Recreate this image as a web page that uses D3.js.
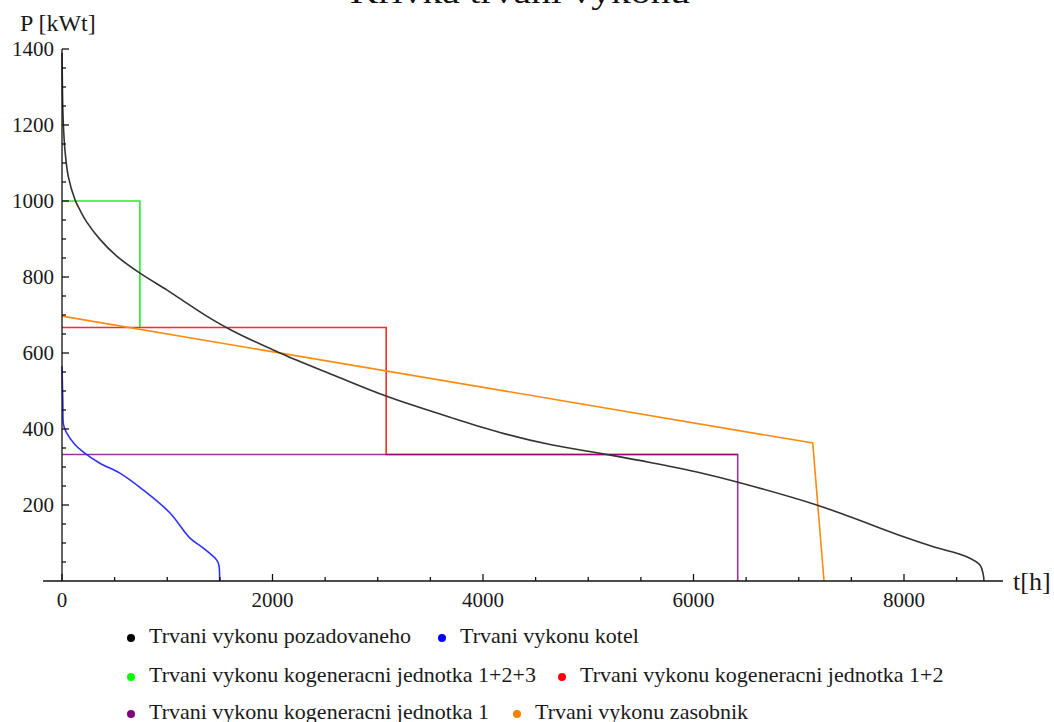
<!DOCTYPE html>
<html>
<head>
<meta charset="utf-8">
<script src="https://cdn.jsdelivr.net/npm/d3@7"></script>
<style>
  body { margin: 0; background: #fff; }
  svg { font-family: "Liberation Serif", "DejaVu Serif", serif; }
</style>
</head>
<body>
<div id="chart"></div>
<script>
const width = 1054, height = 722;

// t[h], P[kWt]
const pozadovany = [[0,1390],[4,1300],[8,1240],[15,1190],[28,1134],[60,1064],[124,1003],[171,976],[234,945],[361,899],[520,855],[741,810],[995,766],[1121,743],[1375,697],[1596,662],[2071,600],[2577,542],[3085,486],[3686,431],[4161,391],[4637,359],[5175,333],[5587,312],[6062,285],[6423,260],[7170,200],[7487,169],[7990,117],[8280,90],[8596,64],[8722,42],[8752,18],[8760,0]];
const kotel = [[0,565],[8,470],[15,410],[45,389],[120,360],[200,340],[360,310],[550,284],[770,240],[1026,179],[1216,113],[1340,87],[1470,55],[1490,42],[1498,0]];
const kj123 = [[0,1000],[740,1000],[740,667]];
const kj12 = [[0,667],[3080,667],[3080,333],[6420,333]];
const kj1 = [[0,333],[6420,333],[6420,0]];
const zasobnik = [[0,697],[7133,363],[7240,0]];

const xMajor = [0, 2000, 4000, 6000, 8000];
const xMinor = [500, 1000, 1500, 2500, 3000, 3500, 4500, 5000, 5500, 6500, 7000, 7500, 8500];
const yMajor = [200, 400, 600, 800, 1000, 1200, 1400];
const yMinor = [50, 100, 150, 250, 300, 350, 450, 500, 550, 650, 700, 750, 850, 900, 950, 1050, 1100, 1150, 1250, 1300, 1350];

const legendRows = [
  [{name: "Trvani vykonu pozadovaneho", color: "#000000"}, {name: "Trvani vykonu kotel", color: "#0000ff"}],
  [{name: "Trvani vykonu kogeneracni jednotka 1+2+3", color: "#00ff00"}, {name: "Trvani vykonu kogeneracni jednotka 1+2", color: "#ff0000"}],
  [{name: "Trvani vykonu kogeneracni jednotka 1", color: "#800080"}, {name: "Trvani vykonu zasobnik", color: "#ff8000"}]
];

const svg = d3.select("#chart").append("svg")
    .attr("width", width)
    .attr("height", height);

let x = d3.scaleLinear().domain([0, 8000]).range([62, 904]);
let y = d3.scaleLinear().domain([0, 1400]).range([581, 49]);

// title (cut off at the top, as in the original)
svg.append("text")
    .attr("x", 520)
    .attr("y", 3)
    .attr("textLength", 340)
    .attr("lengthAdjust", "spacingAndGlyphs")
    .style("text-anchor", "middle")
    .style("font-size", "32px")
    .attr("fill", "#111")
    .text("Krivka trvani vykonu");

// series
let line = d3.line().x(d => x(d[0])).y(d => y(d[1]));
let smooth = d3.line().x(d => x(d[0])).y(d => y(d[1])).curve(d3.curveCatmullRom.alpha(0.5));

let series = [
  {data: kj123, color: "#22ee22", gen: line, op: 1},
  {data: kj12, color: "#ee1a10", gen: line, op: 0.9},
  {data: kj1, color: "#800080", gen: line, op: 0.8},
  {data: zasobnik, color: "#ff8a10", gen: line, op: 1},
  {data: kotel, color: "#3030ff", gen: smooth, op: 1},
  {data: pozadovany, color: "#333333", gen: smooth, op: 1}
];

svg.append("g").selectAll("path")
    .data(series)
    .enter()
    .append("path")
    .attr("d", d => d.gen(d.data))
    .attr("fill", "none")
    .attr("stroke", d => d.color)
    .attr("stroke-opacity", d => d.op)
    .attr("stroke-width", 1.6);

// axes
let axes = svg.append("g").attr("stroke", "#111").attr("stroke-width", 1.3);
axes.append("line")
    .attr("x1", x(-180)).attr("x2", x(8940))
    .attr("y1", y(0)).attr("y2", y(0));
axes.append("line")
    .attr("x1", x(0)).attr("x2", x(0))
    .attr("y1", y(0)).attr("y2", y(1400));

axes.selectAll(".xmaj").data(xMajor).enter().append("line")
    .attr("x1", d => x(d)).attr("x2", d => x(d))
    .attr("y1", y(0)).attr("y2", y(0) - 7);
axes.selectAll(".xmin").data(xMinor).enter().append("line")
    .attr("x1", d => x(d)).attr("x2", d => x(d))
    .attr("y1", y(0)).attr("y2", y(0) - 4);
axes.selectAll(".ymaj").data(yMajor).enter().append("line")
    .attr("x1", x(0)).attr("x2", x(0) + 7)
    .attr("y1", d => y(d)).attr("y2", d => y(d));
axes.selectAll(".ymin").data(yMinor).enter().append("line")
    .attr("x1", x(0)).attr("x2", x(0) + 4)
    .attr("y1", d => y(d)).attr("y2", d => y(d));

let labels = svg.append("g").style("font-size", "21px").attr("fill", "#1a1a1a");
labels.selectAll(".xl").data(xMajor).enter().append("text")
    .attr("x", d => x(d))
    .attr("y", y(0) + 26)
    .style("text-anchor", "middle")
    .text(d => d);
labels.selectAll(".yl").data(yMajor).enter().append("text")
    .attr("x", x(0) - 8)
    .attr("y", d => y(d) + 7)
    .style("text-anchor", "end")
    .text(d => d);

labels.append("text")
    .attr("x", 20).attr("y", 31)
    .style("font-size", "24px")
    .text("P [kWt]");
labels.append("text")
    .attr("x", 1013).attr("y", 590)
    .style("font-size", "26px")
    .text("t[h]");

// legend
let legendX = [[131, 442], [131, 562], [131, 517]];
let legendY = [638, 677, 714];
let legend = svg.append("g").style("font-size", "22px").attr("fill", "#1a1a1a");
legendRows.forEach(function(row, i) {
    row.forEach(function(item, j) {
        let lx = legendX[i][j];
        legend.append("circle")
            .attr("cx", lx).attr("cy", legendY[i])
            .attr("r", 4)
            .attr("fill", item.color);
        legend.append("text")
            .attr("x", lx + 18).attr("y", legendY[i] + 5)
            .text(item.name);
    });
});
</script>
</body>
</html>
